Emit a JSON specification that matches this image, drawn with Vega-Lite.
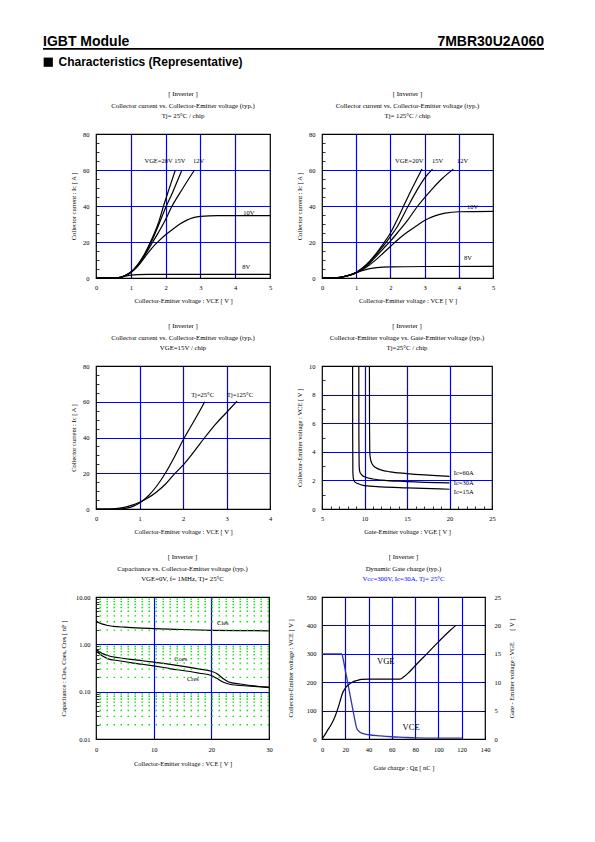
{
"$schema": "https://vega.github.io/schema/vega-lite/v6.json",
"padding": {"left": 42, "top": 30, "right": 0, "bottom": 0},
"autosize": {"type": "pad"},
"background": "white",
"config": {
  "font": "Liberation Serif",
  "view": {"stroke": "black", "strokeWidth": 1.2},
  "axis": {"labelFont": "Liberation Serif", "labelFontSize": 6.5, "labelColor": "black", "titleFont": "Liberation Serif", "titleFontSize": 6.5, "titleFontWeight": "normal", "titleColor": "black", "domain": false, "tickColor": "black", "tickSize": -3, "tickWidth": 0.8, "grid": true, "gridColor": "#0000ff", "gridWidth": 1.2, "labelFlush": false, "labelOverlap": false},
  "axisX": {"labelPadding": 9, "titlePadding": 6.5},
  "axisY": {"labelPadding": 10, "titlePadding": 6},
  "title": {"font": "Liberation Serif", "fontSize": 6.8, "fontWeight": "normal", "color": "black", "subtitleFont": "Liberation Serif", "subtitleFontSize": 6.8, "subtitleColor": "black", "anchor": "middle", "frame": "group", "lineHeight": 12, "subtitleLineHeight": 12, "subtitlePadding": 3, "offset": 11},
  "line": {"color": "black", "strokeWidth": 1.2},
  "text": {"font": "Liberation Serif", "fontSize": 6.5, "color": "black"}
},
"datasets": {
  "p1": [
    {"s":"20V","x":0,"y":0},{"s":"20V","x":0.5,"y":0},{"s":"20V","x":0.7,"y":0.4},{"s":"20V","x":0.85,"y":1.5},{"s":"20V","x":1.0,"y":3.3},{"s":"20V","x":1.2,"y":7.5},{"s":"20V","x":1.4,"y":13.5},{"s":"20V","x":1.6,"y":21.5},{"s":"20V","x":1.8,"y":31},{"s":"20V","x":1.94,"y":40},{"s":"20V","x":2.1,"y":49.5},{"s":"20V","x":2.28,"y":60},
    {"s":"15V","x":0,"y":0},{"s":"15V","x":0.5,"y":0},{"s":"15V","x":0.7,"y":0.4},{"s":"15V","x":0.85,"y":1.5},{"s":"15V","x":1.0,"y":3.2},{"s":"15V","x":1.2,"y":7.3},{"s":"15V","x":1.4,"y":13},{"s":"15V","x":1.6,"y":20.5},{"s":"15V","x":1.8,"y":29.5},{"s":"15V","x":2.0,"y":39},{"s":"15V","x":2.2,"y":47.5},{"s":"15V","x":2.35,"y":54.5},{"s":"15V","x":2.47,"y":60},
    {"s":"12V","x":0,"y":0},{"s":"12V","x":0.5,"y":0},{"s":"12V","x":0.7,"y":0.4},{"s":"12V","x":0.85,"y":1.4},{"s":"12V","x":1.0,"y":3.1},{"s":"12V","x":1.2,"y":7},{"s":"12V","x":1.4,"y":12.5},{"s":"12V","x":1.6,"y":19},{"s":"12V","x":1.8,"y":25.5},{"s":"12V","x":2.0,"y":32.5},{"s":"12V","x":2.16,"y":39},{"s":"12V","x":2.5,"y":50},{"s":"12V","x":2.83,"y":60},
    {"s":"10V","x":0,"y":0},{"s":"10V","x":0.5,"y":0},{"s":"10V","x":0.7,"y":0.4},{"s":"10V","x":0.85,"y":1.4},{"s":"10V","x":1.0,"y":3},{"s":"10V","x":1.2,"y":6.5},{"s":"10V","x":1.4,"y":11.5},{"s":"10V","x":1.6,"y":16.5},{"s":"10V","x":1.8,"y":20.5},{"s":"10V","x":2.0,"y":24},{"s":"10V","x":2.2,"y":27},{"s":"10V","x":2.4,"y":29.8},{"s":"10V","x":2.6,"y":32},{"s":"10V","x":2.8,"y":33.5},{"s":"10V","x":3.0,"y":34.2},{"s":"10V","x":3.5,"y":34.6},{"s":"10V","x":5.0,"y":34.6},
    {"s":"8V","x":0,"y":0},{"s":"8V","x":0.5,"y":0},{"s":"8V","x":0.7,"y":0.3},{"s":"8V","x":0.85,"y":1.0},{"s":"8V","x":1.0,"y":1.6},{"s":"8V","x":1.2,"y":1.9},{"s":"8V","x":1.5,"y":2},{"s":"8V","x":5,"y":2}
  ],
  "p1lab": [{"t":"VGE=20V 15V","x":1.98,"y":65},{"t":"12V","x":2.95,"y":65},{"t":"10V","x":4.39,"y":36.3},{"t":"8V","x":4.32,"y":6.1}],
  "p2": [
    {"s":"20V","x":0,"y":0},{"s":"20V","x":0.4,"y":0},{"s":"20V","x":0.6,"y":0.6},{"s":"20V","x":0.8,"y":1.6},{"s":"20V","x":1.0,"y":3.2},{"s":"20V","x":1.2,"y":5.8},{"s":"20V","x":1.4,"y":9.5},{"s":"20V","x":1.6,"y":14},{"s":"20V","x":1.8,"y":19.2},{"s":"20V","x":2.0,"y":25},{"s":"20V","x":2.2,"y":32.5},{"s":"20V","x":2.4,"y":40.5},{"s":"20V","x":2.6,"y":48.5},{"s":"20V","x":2.8,"y":56},{"s":"20V","x":2.92,"y":60.5},
    {"s":"15V","x":0,"y":0},{"s":"15V","x":0.4,"y":0},{"s":"15V","x":0.6,"y":0.6},{"s":"15V","x":0.8,"y":1.6},{"s":"15V","x":1.0,"y":3.1},{"s":"15V","x":1.2,"y":5.6},{"s":"15V","x":1.4,"y":9},{"s":"15V","x":1.6,"y":13.3},{"s":"15V","x":1.8,"y":18},{"s":"15V","x":2.0,"y":23},{"s":"15V","x":2.2,"y":28.5},{"s":"15V","x":2.52,"y":40},{"s":"15V","x":2.8,"y":49.5},{"s":"15V","x":3.0,"y":55.5},{"s":"15V","x":3.23,"y":60.5},
    {"s":"12V","x":0,"y":0},{"s":"12V","x":0.4,"y":0},{"s":"12V","x":0.6,"y":0.6},{"s":"12V","x":0.8,"y":1.6},{"s":"12V","x":1.0,"y":3},{"s":"12V","x":1.2,"y":5.3},{"s":"12V","x":1.4,"y":8.5},{"s":"12V","x":1.6,"y":12.3},{"s":"12V","x":1.8,"y":16.5},{"s":"12V","x":2.0,"y":20.5},{"s":"12V","x":2.2,"y":25},{"s":"12V","x":2.5,"y":32},{"s":"12V","x":2.8,"y":40},{"s":"12V","x":3.2,"y":49},{"s":"12V","x":3.5,"y":55},{"s":"12V","x":3.84,"y":60.5},
    {"s":"10V","x":0,"y":0},{"s":"10V","x":0.4,"y":0},{"s":"10V","x":0.6,"y":0.6},{"s":"10V","x":0.8,"y":1.5},{"s":"10V","x":1.0,"y":2.8},{"s":"10V","x":1.2,"y":4.8},{"s":"10V","x":1.4,"y":7.5},{"s":"10V","x":1.6,"y":10.5},{"s":"10V","x":1.8,"y":14},{"s":"10V","x":2.0,"y":17.5},{"s":"10V","x":2.2,"y":21},{"s":"10V","x":2.5,"y":25.5},{"s":"10V","x":2.8,"y":29.5},{"s":"10V","x":3.0,"y":32},{"s":"10V","x":3.3,"y":34.5},{"s":"10V","x":3.6,"y":36},{"s":"10V","x":4.0,"y":36.8},{"s":"10V","x":5.0,"y":37},
    {"s":"8V","x":0,"y":0},{"s":"8V","x":0.4,"y":0},{"s":"8V","x":0.6,"y":0.6},{"s":"8V","x":0.8,"y":1.6},{"s":"8V","x":1.0,"y":2.9},{"s":"8V","x":1.2,"y":4.2},{"s":"8V","x":1.4,"y":5.2},{"s":"8V","x":1.6,"y":5.8},{"s":"8V","x":2.0,"y":6.2},{"s":"8V","x":3.0,"y":6.4},{"s":"8V","x":5.0,"y":6.5}
  ],
  "p2lab": [{"t":"VGE=20V","x":2.55,"y":65},{"t":"15V","x":3.38,"y":65},{"t":"12V","x":4.11,"y":65},{"t":"10V","x":4.4,"y":39.6},{"t":"8V","x":4.27,"y":11.2}],
  "p3": [
    {"s":"25","x":0,"y":0},{"s":"25","x":0.5,"y":0},{"s":"25","x":0.7,"y":0.5},{"s":"25","x":0.85,"y":1.5},{"s":"25","x":1.0,"y":3.3},{"s":"25","x":1.2,"y":7.3},{"s":"25","x":1.4,"y":13},{"s":"25","x":1.6,"y":20.3},{"s":"25","x":1.8,"y":29},{"s":"25","x":2.0,"y":38.5},{"s":"25","x":2.2,"y":47},{"s":"25","x":2.4,"y":55.5},{"s":"25","x":2.5,"y":60},
    {"s":"125","x":0,"y":0},{"s":"125","x":0.3,"y":0},{"s":"125","x":0.5,"y":0.4},{"s":"125","x":0.7,"y":1.2},{"s":"125","x":0.85,"y":2.3},{"s":"125","x":1.0,"y":3.8},{"s":"125","x":1.2,"y":6.3},{"s":"125","x":1.4,"y":9.7},{"s":"125","x":1.6,"y":14},{"s":"125","x":1.8,"y":19.5},{"s":"125","x":2.0,"y":24.5},{"s":"125","x":2.25,"y":32},{"s":"125","x":2.5,"y":40},{"s":"125","x":2.75,"y":47.5},{"s":"125","x":3.0,"y":54},{"s":"125","x":3.24,"y":60.3}
  ],
  "p3lab": [{"t":"Tj=25°C","x":2.45,"y":63.7},{"t":"Tj=125°C","x":3.31,"y":63.7}],
  "p4": [
    {"s":"15A","x":8.6,"y":10},{"s":"15A","x":8.61,"y":5},{"s":"15A","x":8.63,"y":2.6},{"s":"15A","x":8.7,"y":2.1},{"s":"15A","x":8.85,"y":1.9},{"s":"15A","x":9.2,"y":1.78},{"s":"15A","x":10,"y":1.64},{"s":"15A","x":12,"y":1.55},{"s":"15A","x":15,"y":1.48},{"s":"15A","x":20,"y":1.38},
    {"s":"30A","x":9.33,"y":10},{"s":"30A","x":9.34,"y":5},{"s":"30A","x":9.37,"y":3.0},{"s":"30A","x":9.45,"y":2.6},{"s":"30A","x":9.65,"y":2.4},{"s":"30A","x":10,"y":2.25},{"s":"30A","x":11,"y":2.1},{"s":"30A","x":12,"y":2.02},{"s":"30A","x":15,"y":1.92},{"s":"30A","x":20,"y":1.82},
    {"s":"60A","x":10.58,"y":10},{"s":"60A","x":10.59,"y":6},{"s":"60A","x":10.62,"y":4.0},{"s":"60A","x":10.7,"y":3.5},{"s":"60A","x":10.9,"y":3.15},{"s":"60A","x":11.3,"y":2.9},{"s":"60A","x":12,"y":2.72},{"s":"60A","x":13,"y":2.6},{"s":"60A","x":15,"y":2.48},{"s":"60A","x":20,"y":2.28}
  ],
  "p4lab": [{"t":"Ic=60A","x":20.5,"y":2.49},{"t":"Ic=30A","x":20.5,"y":1.79},{"t":"Ic=15A","x":20.5,"y":1.16}],
  "p5": [
    {"s":"Cies","x":0,"y":3.1},{"s":"Cies","x":0.5,"y":2.85},{"s":"Cies","x":1,"y":2.7},{"s":"Cies","x":2,"y":2.5},{"s":"Cies","x":3,"y":2.4},{"s":"Cies","x":5,"y":2.3},{"s":"Cies","x":7,"y":2.22},{"s":"Cies","x":10,"y":2.15},{"s":"Cies","x":15,"y":2.06},{"s":"Cies","x":20,"y":1.98},{"s":"Cies","x":25,"y":1.95},{"s":"Cies","x":30,"y":1.93},
    {"s":"Coes","x":0,"y":0.78},{"s":"Coes","x":1,"y":0.65},{"s":"Coes","x":2,"y":0.58},{"s":"Coes","x":4,"y":0.52},{"s":"Coes","x":6,"y":0.48},{"s":"Coes","x":8,"y":0.45},{"s":"Coes","x":10,"y":0.42},{"s":"Coes","x":12,"y":0.39},{"s":"Coes","x":14,"y":0.36},{"s":"Coes","x":16,"y":0.33},{"s":"Coes","x":18,"y":0.3},{"s":"Coes","x":20,"y":0.27},{"s":"Coes","x":21,"y":0.24},{"s":"Coes","x":22,"y":0.19},{"s":"Coes","x":23,"y":0.16},{"s":"Coes","x":25,"y":0.145},{"s":"Coes","x":28,"y":0.13},{"s":"Coes","x":30,"y":0.125},
    {"s":"Cres","x":0,"y":0.72},{"s":"Cres","x":1,"y":0.58},{"s":"Cres","x":2,"y":0.5},{"s":"Cres","x":4,"y":0.45},{"s":"Cres","x":6,"y":0.41},{"s":"Cres","x":8,"y":0.38},{"s":"Cres","x":10,"y":0.35},{"s":"Cres","x":12,"y":0.32},{"s":"Cres","x":14,"y":0.29},{"s":"Cres","x":16,"y":0.27},{"s":"Cres","x":18,"y":0.245},{"s":"Cres","x":20,"y":0.22},{"s":"Cres","x":21,"y":0.19},{"s":"Cres","x":22,"y":0.16},{"s":"Cres","x":23,"y":0.145},{"s":"Cres","x":25,"y":0.135},{"s":"Cres","x":28,"y":0.128},{"s":"Cres","x":30,"y":0.122}
  ],
  "p5lab": [{"t":"Cies","x":22,"y":2.88},{"t":"Coes","x":14.7,"y":0.485},{"t":"Cres","x":16.8,"y":0.181}],
  "p5g": [{"g":0.02},{"g":0.03},{"g":0.04},{"g":0.05},{"g":0.06},{"g":0.07},{"g":0.08},{"g":0.09},{"g":0.2},{"g":0.3},{"g":0.4},{"g":0.5},{"g":0.6},{"g":0.7},{"g":0.8},{"g":0.9},{"g":2},{"g":3},{"g":4},{"g":5},{"g":6},{"g":7},{"g":8},{"g":9}],
  "p6vce": [
    {"x":0,"y":300},{"x":17,"y":300},{"x":18,"y":285},{"x":20,"y":242},{"x":22,"y":200},{"x":24,"y":157},{"x":26,"y":114},{"x":28,"y":72},{"x":29.5,"y":42},{"x":31,"y":30},{"x":33,"y":23},{"x":36,"y":18},{"x":40,"y":15},{"x":50,"y":11},{"x":60,"y":8},{"x":70,"y":6},{"x":80,"y":4},{"x":100,"y":3},{"x":120,"y":3}
  ],
  "p6vge": [
    {"x":0,"y":0},{"x":2,"y":0.6},{"x":5,"y":1.6},{"x":8,"y":2.6},{"x":10,"y":3.4},{"x":12,"y":4.4},{"x":14,"y":5.6},{"x":16,"y":7},{"x":17.5,"y":8},{"x":19,"y":8.6},{"x":21,"y":9.2},{"x":23,"y":9.6},{"x":26,"y":10},{"x":30,"y":10.3},{"x":34,"y":10.5},{"x":40,"y":10.55},{"x":67,"y":10.55},{"x":70,"y":10.9},{"x":74,"y":11.6},{"x":80,"y":12.9},{"x":90,"y":15},{"x":100,"y":17.1},{"x":110,"y":19.1},{"x":115,"y":20}
  ],
  "p6lab": [{"t":"VGE","x":54.8,"y":276},{"t":"VCE","x":76.5,"y":42}]
},
"columns": 3,
"align": {"row": "each", "column": "each"},
"bounds": "flush",
"spacing": {"row": 88, "column": 52},
"concat": [
  {
    "width": 1, "height": 16,
    "view": {"stroke": null},
    "layer": [
      {"data": {"values": [{"t": "IGBT Module", "x": 0, "y": 16}]},
       "mark": {"type": "text", "align": "left", "baseline": "alphabetic", "font": "Liberation Sans", "fontSize": 14, "fontWeight": "bold"},
       "encoding": {"x": {"field": "x", "type": "quantitative", "scale": {"domain": [0, 1], "range": [0, 501], "nice": false, "zero": false}, "axis": null},
                    "y": {"field": "y", "type": "quantitative", "scale": {"domain": [0, 40], "range": [0, 40], "nice": false, "zero": false}, "axis": null},
                    "text": {"field": "t"}}},
      {"data": {"values": [{"t": "7MBR30U2A060", "x": 1, "y": 16}]},
       "mark": {"type": "text", "align": "right", "baseline": "alphabetic", "font": "Liberation Sans", "fontSize": 14, "fontWeight": "bold"},
       "encoding": {"x": {"field": "x", "type": "quantitative", "axis": null}, "y": {"field": "y", "type": "quantitative", "axis": null}, "text": {"field": "t"}}},
      {"data": {"values": [{"x": 0, "x2": 1, "y": 18.8}]},
       "mark": {"type": "rule", "strokeWidth": 1.7, "color": "black"},
       "encoding": {"x": {"field": "x", "type": "quantitative", "axis": null}, "x2": {"field": "x2"}, "y": {"field": "y", "type": "quantitative", "axis": null}}},
      {"data": {"values": [{"x": 0.0105, "y": 32.2}]},
       "mark": {"type": "point", "shape": "square", "filled": true, "size": 85, "color": "black", "opacity": 1},
       "encoding": {"x": {"field": "x", "type": "quantitative", "axis": null}, "y": {"field": "y", "type": "quantitative", "axis": null}}},
      {"data": {"values": [{"t": "Characteristics (Representative)", "x": 0.031, "y": 35.7}]},
       "mark": {"type": "text", "align": "left", "baseline": "alphabetic", "font": "Liberation Sans", "fontSize": 12, "fontWeight": "bold"},
       "encoding": {"x": {"field": "x", "type": "quantitative", "axis": null}, "y": {"field": "y", "type": "quantitative", "axis": null}, "text": {"field": "t"}}}
    ]
  },
  {"width": 1, "height": 16, "view": {"stroke": null}, "data": {"values": [{"t": ""}]}, "mark": "text", "encoding": {"text": {"field": "t"}}},
  {"width": 1, "height": 16, "view": {"stroke": null}, "data": {"values": [{"t": ""}]}, "mark": "text", "encoding": {"text": {"field": "t"}}},
  {"width": 1, "height": 10, "view": {"stroke": null}, "data": {"values": [{"t": ""}]}, "mark": "text", "encoding": {"text": {"field": "t"}}},
  {
    "width": 174, "height": 144,
    "title": {"text": ["[ Inverter ]", "Collector current vs. Collector-Emitter voltage (typ.)"], "subtitle": "Tj= 25°C / chip"},
    "resolve": {"axis": {"x": "independent", "y": "independent"}},
    "layer": [
      {"data": {"name": "p1"}, "mark": {"type": "line", "interpolate": "monotone", "clip": true},
       "encoding": {
         "x": {"field": "x", "type": "quantitative", "scale": {"domain": [0, 5], "nice": false},
               "axis": {"title": "Collector-Emitter voltage : VCE [ V ]", "values": [0,0.5,1,1.5,2,2.5,3,3.5,4,4.5,5], "format": "d", "labelExpr": "datum.value % 1 === 0 ? datum.label : ''", "gridOpacity": {"condition": {"test": "datum.value % 1 === 0 && datum.value > 0 && datum.value < 5", "value": 1}, "value": 0}}},
         "y": {"field": "y", "type": "quantitative", "scale": {"domain": [0, 80], "nice": false},
               "axis": {"title": "Collector current : Ic [ A ]", "values": [0,5,10,15,20,25,30,35,40,45,50,55,60,65,70,75,80], "format": "d", "labelExpr": "datum.value % 20 === 0 ? datum.label : ''", "gridOpacity": {"condition": {"test": "datum.value % 20 === 0 && datum.value > 0 && datum.value < 80", "value": 1}, "value": 0}}},
         "detail": {"field": "s"}}},
      {"data": {"name": "p1lab"}, "mark": {"type": "text"},
       "encoding": {"x": {"field": "x", "type": "quantitative", "axis": null}, "y": {"field": "y", "type": "quantitative", "axis": null}, "text": {"field": "t"}}}
    ]
  },
  {
    "width": 171, "height": 144,
    "title": {"text": ["[ Inverter ]", "Collector current vs. Collector-Emitter voltage (typ.)"], "subtitle": "Tj= 125°C / chip"},
    "resolve": {"axis": {"x": "independent", "y": "independent"}},
    "layer": [
      {"data": {"name": "p2"}, "mark": {"type": "line", "interpolate": "monotone", "clip": true},
       "encoding": {
         "x": {"field": "x", "type": "quantitative", "scale": {"domain": [0, 5], "nice": false},
               "axis": {"title": "Collector-Emitter voltage : VCE [ V ]", "values": [0,0.5,1,1.5,2,2.5,3,3.5,4,4.5,5], "format": "d", "labelExpr": "datum.value % 1 === 0 ? datum.label : ''", "gridOpacity": {"condition": {"test": "datum.value % 1 === 0 && datum.value > 0 && datum.value < 5", "value": 1}, "value": 0}}},
         "y": {"field": "y", "type": "quantitative", "scale": {"domain": [0, 80], "nice": false},
               "axis": {"title": "Collector current : Ic [ A ]", "values": [0,5,10,15,20,25,30,35,40,45,50,55,60,65,70,75,80], "format": "d", "labelExpr": "datum.value % 20 === 0 ? datum.label : ''", "gridOpacity": {"condition": {"test": "datum.value % 20 === 0 && datum.value > 0 && datum.value < 80", "value": 1}, "value": 0}}},
         "detail": {"field": "s"}}},
      {"data": {"name": "p2lab"}, "mark": {"type": "text"},
       "encoding": {"x": {"field": "x", "type": "quantitative", "axis": null}, "y": {"field": "y", "type": "quantitative", "axis": null}, "text": {"field": "t"}}}
    ]
  },
  {"width": 1, "height": 10, "view": {"stroke": null}, "data": {"values": [{"t": ""}]}, "mark": "text", "encoding": {"text": {"field": "t"}}},
  {
    "width": 174, "height": 143,
    "title": {"text": ["[ Inverter ]", "Collector current vs. Collector-Emitter voltage (typ.)"], "subtitle": "VGE=15V / chip"},
    "resolve": {"axis": {"x": "independent", "y": "independent"}},
    "layer": [
      {"data": {"name": "p3"}, "mark": {"type": "line", "interpolate": "monotone", "clip": true},
       "encoding": {
         "x": {"field": "x", "type": "quantitative", "scale": {"domain": [0, 4], "nice": false},
               "axis": {"title": "Collector-Emitter voltage : VCE [ V ]", "values": [0,0.5,1,1.5,2,2.5,3,3.5,4], "format": "d", "labelExpr": "datum.value % 1 === 0 ? datum.label : ''", "gridOpacity": {"condition": {"test": "datum.value % 1 === 0 && datum.value > 0 && datum.value < 4", "value": 1}, "value": 0}}},
         "y": {"field": "y", "type": "quantitative", "scale": {"domain": [0, 80], "nice": false},
               "axis": {"title": "Collector current : Ic [ A ]", "values": [0,5,10,15,20,25,30,35,40,45,50,55,60,65,70,75,80], "format": "d", "labelExpr": "datum.value % 20 === 0 ? datum.label : ''", "gridOpacity": {"condition": {"test": "datum.value % 20 === 0 && datum.value > 0 && datum.value < 80", "value": 1}, "value": 0}}},
         "detail": {"field": "s"}}},
      {"data": {"name": "p3lab"}, "mark": {"type": "text"},
       "encoding": {"x": {"field": "x", "type": "quantitative", "axis": null}, "y": {"field": "y", "type": "quantitative", "axis": null}, "text": {"field": "t"}}}
    ]
  },
  {
    "width": 170, "height": 143,
    "title": {"text": ["[ Inverter ]", "Collector-Emitter voltage  vs. Gate-Emitter voltage (typ.)"], "subtitle": "Tj=25°C / chip"},
    "resolve": {"axis": {"x": "independent", "y": "independent"}},
    "layer": [
      {"data": {"name": "p4"}, "mark": {"type": "line", "interpolate": "monotone", "clip": true},
       "encoding": {
         "x": {"field": "x", "type": "quantitative", "scale": {"domain": [5, 25], "nice": false, "zero": false},
               "axis": {"title": "Gate-Emitter voltage : VGE [ V ]", "values": [5,6,7,8,9,10,11,12,13,14,15,16,17,18,19,20,21,22,23,24,25], "format": "d", "labelExpr": "datum.value % 5 === 0 ? datum.label : ''", "gridOpacity": {"condition": {"test": "datum.value % 5 === 0 && datum.value > 5 && datum.value < 25", "value": 1}, "value": 0}}},
         "y": {"field": "y", "type": "quantitative", "scale": {"domain": [0, 10], "nice": false},
               "axis": {"title": "Collector-Emitter voltage : VCE [ V ]", "values": [0,0.5,1,1.5,2,2.5,3,3.5,4,4.5,5,5.5,6,6.5,7,7.5,8,8.5,9,9.5,10], "format": "d", "labelExpr": "datum.value % 2 === 0 ? datum.label : ''", "gridOpacity": {"condition": {"test": "datum.value % 2 === 0 && datum.value > 0 && datum.value < 10", "value": 1}, "value": 0}}},
         "detail": {"field": "s"}}},
      {"data": {"name": "p4lab"}, "mark": {"type": "text", "align": "left"},
       "encoding": {"x": {"field": "x", "type": "quantitative", "axis": null}, "y": {"field": "y", "type": "quantitative", "axis": null}, "text": {"field": "t"}}}
    ]
  },
  {"width": 1, "height": 10, "view": {"stroke": null}, "data": {"values": [{"t": ""}]}, "mark": "text", "encoding": {"text": {"field": "t"}}},
  {
    "width": 173, "height": 142,
    "title": {"text": ["[ Inverter ]", "Capacitance  vs.  Collector-Emitter voltage  (typ.)"], "subtitle": "VGE=0V,  f= 1MHz,  Tj= 25°C"},
    "resolve": {"axis": {"x": "independent", "y": "independent"}},
    "layer": [
      {"data": {"name": "p5"}, "mark": {"type": "line", "interpolate": "monotone", "clip": true},
       "encoding": {
         "x": {"field": "x", "type": "quantitative", "scale": {"domain": [0, 30], "nice": false},
               "axis": {"title": "Collector-Emitter voltage : VCE [ V ]", "values": [0,10,20,30], "format": "d", "labelPadding": 10.5, "titlePadding": 7, "gridOpacity": {"condition": {"test": "datum.value > 0 && datum.value < 30", "value": 1}, "value": 0}}},
         "y": {"field": "y", "type": "quantitative", "scale": {"type": "log", "domain": [0.01, 10], "nice": false},
               "axis": {"title": "Capacitance : Cies, Coes, Cres [ nF ]", "values": [0.01,0.02,0.03,0.04,0.05,0.06,0.07,0.08,0.09,0.1,0.2,0.3,0.4,0.5,0.6,0.7,0.8,0.9,1,2,3,4,5,6,7,8,9,10], "format": ".2f", "labelPadding": 9, "titlePadding": 9, "labelExpr": "indexof([0.01,0.1,1,10], datum.value) >= 0 ? datum.label : ''", "gridOpacity": {"condition": {"test": "datum.value === 0.1 || datum.value === 1", "value": 1}, "value": 0}}},
         "detail": {"field": "s"}}},
      {"data": {"name": "p5g"}, "mark": {"type": "rule", "color": "#00e600", "strokeWidth": 1.3, "strokeDash": [1.5, 5.5]},
       "encoding": {"y": {"field": "g", "type": "quantitative", "axis": null}}},
      {"data": {"name": "p5lab"}, "mark": {"type": "text"},
       "encoding": {"x": {"field": "x", "type": "quantitative", "axis": null}, "y": {"field": "y", "type": "quantitative", "axis": null}, "text": {"field": "t"}}}
    ]
  },
  {
    "width": 163, "height": 142,
    "title": {"text": ["[ Inverter ]", "Dynamic Gate charge  (typ.)"], "subtitle": "Vcc=300V,  Ic=30A, Tj= 25°C", "subtitleColor": "#0000ff"},
    "resolve": {"scale": {"y": "independent"}, "axis": {"x": "independent", "y": "independent"}},
    "layer": [
      {"data": {"name": "p6vce"}, "mark": {"type": "line", "interpolate": "monotone", "clip": true, "color": "#3333b0", "strokeWidth": 1.3},
       "encoding": {
         "x": {"field": "x", "type": "quantitative", "scale": {"domain": [0, 140], "nice": false},
               "axis": {"title": "Gate charge  :  Qg  [ nC ]", "values": [0,20,40,60,80,100,120,140], "format": "d", "labelPadding": 10.5, "titlePadding": 11, "gridOpacity": {"condition": {"test": "datum.value > 0 && datum.value < 140", "value": 1}, "value": 0}}},
         "y": {"field": "y", "type": "quantitative", "scale": {"domain": [0, 500], "nice": false},
               "axis": {"title": "Collector-Emitter voltage : VCE [ V ]", "values": [0,100,200,300,400,500], "format": "d", "labelPadding": 9, "titlePadding": 13, "gridOpacity": {"condition": {"test": "datum.value > 0 && datum.value < 500", "value": 1}, "value": 0}}}}},
      {"data": {"name": "p6vge"}, "mark": {"type": "line", "interpolate": "monotone", "clip": true},
       "encoding": {
         "x": {"field": "x", "type": "quantitative", "axis": null},
         "y": {"field": "y", "type": "quantitative", "scale": {"domain": [0, 25], "nice": false},
               "axis": {"orient": "right", "title": "Gate - Emitter voltage  :  VGE \u00a0\u00a0\u00a0\u00a0\u00a0\u00a0[ V ]", "titleAngle": -90, "values": [0,5,10,15,20,25], "format": "d", "grid": false, "labelPadding": 12, "titlePadding": 14}}}},
      {"data": {"name": "p6lab"}, "mark": {"type": "text", "fontSize": 8.5},
       "encoding": {"x": {"field": "x", "type": "quantitative", "axis": null}, "y": {"field": "y", "type": "quantitative", "scale": {"domain": [0, 500], "nice": false}, "axis": null}, "text": {"field": "t"}}}
    ]
  }
]
}
